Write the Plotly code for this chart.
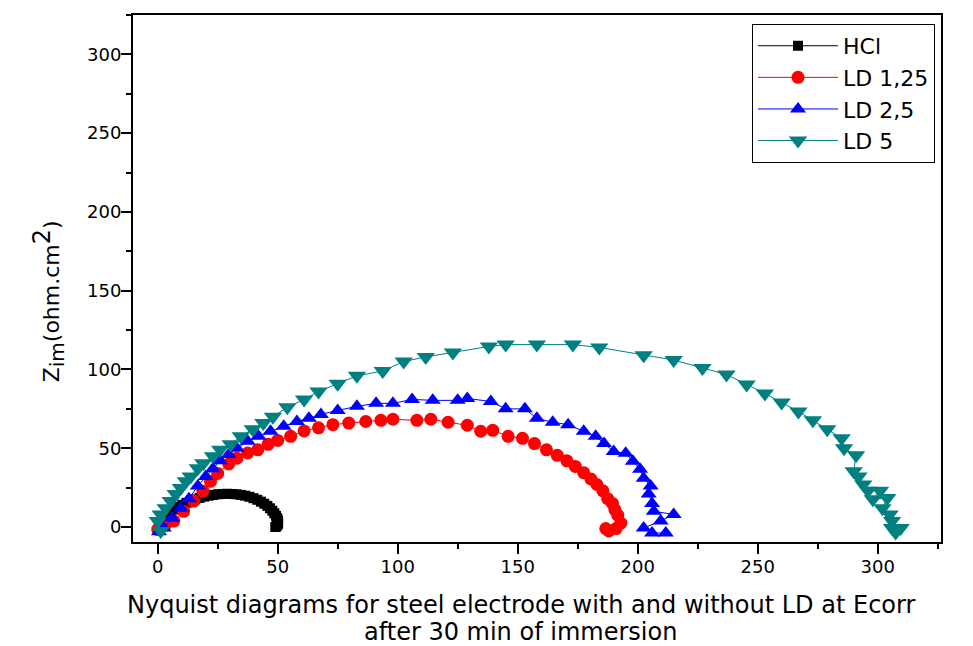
import plotly.graph_objects as go

# ---------------- data ----------------
hcl_x = [0.5, 1.2, 2.0, 3.0, 4.2, 5.5, 7.0, 8.6, 10.3, 12.0, 13.8, 15.6, 17.5, 19.4, 21.3,
         23.2, 25.1, 27.0, 28.9, 30.8, 32.7, 34.6, 36.4, 38.2, 39.9, 41.5, 43.0, 44.4, 45.7,
         46.8, 47.8, 48.6, 49.3, 49.8, 50.1, 50.2, 50.1, 49.8, 49.4, 49.0]
hcl_y = [0.3, 2.0, 3.8, 5.7, 7.6, 9.4, 11.1, 12.7, 14.1, 15.4, 16.6, 17.6, 18.5, 19.3, 19.9,
         20.4, 20.8, 21.0, 21.1, 21.0, 20.8, 20.4, 19.9, 19.2, 18.3, 17.3, 16.1, 14.8, 13.4,
         11.9, 10.3, 8.7, 7.1, 5.6, 4.2, 3.0, 2.0, 1.1, 0.4, 0.0]

ld125_x = [0.0, 3.0, 6.7, 10.8, 15.0, 18.8, 22.0, 25.0, 29.6, 33.0, 37.5, 41.7, 46.0, 50.0,
           55.4, 61.0, 67.0, 73.0, 79.6, 86.7, 93.0, 98.0, 108.0, 113.8, 121.0, 129.0, 134.6,
           139.6, 146.0, 152.0, 157.0, 162.0, 166.5, 170.5, 174.0, 177.5, 180.5, 183.0, 185.5,
           187.5, 189.5, 190.5, 191.7, 193.0, 191.0, 188.0, 186.7]
ld125_y = [-1.5, 1.0, 3.8, 10.0, 16.5, 22.8, 29.0, 34.0, 40.0, 43.7, 47.0, 49.0, 52.5, 55.0,
           57.6, 61.0, 63.0, 65.0, 66.0, 67.0, 67.7, 68.4, 67.7, 68.4, 66.5, 64.6, 60.8,
           61.4, 57.6, 56.3, 53.0, 49.0, 45.5, 42.0, 38.5, 34.5, 30.5, 27.0, 23.0,
           18.0, 15.0, 11.0, 7.5, 2.5, -1.0, -2.5, -1.0]

ld25_x = [0.5, 2.5, 6.0, 9.6, 13.0, 16.7, 20.0, 23.0, 26.0, 29.6, 33.0, 37.5, 42.0, 47.0,
          52.5, 58.0, 63.0, 68.0, 75.0, 83.0, 91.0, 98.0, 106.0, 114.6, 125.0, 129.0, 138.8,
          145.0, 153.0, 158.0, 164.6, 171.0, 177.5, 182.5, 186.0, 190.0, 195.0, 198.0, 201.0,
          202.5, 205.4, 204.6, 206.0, 206.7, 215.0, 209.6, 202.5, 206.0, 211.7]
ld25_y = [-3.0, -0.6, 5.7, 12.0, 18.0, 26.0, 32.0, 37.0, 42.0, 46.0, 50.0, 54.4, 57.6, 60.8,
          64.0, 67.0, 69.0, 71.5, 74.0, 76.6, 78.5, 78.5, 81.0, 80.4, 80.4, 81.6, 79.7,
          75.0, 75.0, 69.0, 66.5, 65.0, 60.8, 57.6, 53.0, 48.0, 46.8, 41.8, 36.7,
          31.0, 26.0, 21.0, 15.0, 10.0, 8.0, 3.8, -0.6, -3.8, -3.8]

ld5_x = [1.25, 0.0, 1.25, 3.3, 5.4, 7.5, 9.6, 11.7, 13.75, 16.7, 19.0, 23.0, 26.0, 30.4,
         34.6, 39.6, 44.0, 48.0, 54.0, 61.0, 67.0, 75.0, 83.0, 93.75, 102.5, 111.7, 123.0,
         138.0, 145.0, 158.0, 173.0, 184.0, 202.5, 215.0, 227.0, 237.0, 245.4, 253.0, 260.0,
         267.0, 273.0, 279.0, 285.0, 286.0, 291.0, 290.0, 292.0, 294.0, 296.0, 301.0, 298.0,
         304.0, 302.0, 305.0, 306.0, 306.0, 309.6, 307.5]
ld5_y = [-2.5, 3.8, 8.0, 12.0, 16.5, 21.0, 24.7, 29.0, 32.0, 37.3, 40.5, 45.0, 49.0, 52.5,
         57.6, 62.0, 66.0, 70.0, 76.0, 81.0, 86.0, 91.0, 96.0, 99.0, 105.0, 108.0, 110.8,
         114.6, 115.8, 115.8, 115.8, 114.0, 109.0, 106.0, 101.0, 96.8, 90.5, 84.8, 79.0,
         73.4, 67.7, 62.0, 56.3, 50.0, 45.6, 35.4, 32.0, 27.0, 23.0, 23.0, 17.7,
         18.4, 12.0, 8.0, 3.8, -0.6, -0.6, -3.5]

series_names = ["HCl", "LD 1,25", "LD 2,5", "LD 5"]
x_ticks = [0, 50, 100, 150, 200, 250, 300]
y_ticks = [0, 50, 100, 150, 200, 250, 300]
x_title_lines = ["Nyquist diagrams for steel electrode with and without LD at Ecorr",
                 "after 30 min of immersion"]
y_title = "Z<sub><span style='font-size:20px'>im</span></sub>(ohm.cm<sup><span style='font-size:24px'>2</span></sup>)"

# ---------------- figure ----------------
FONT = "DejaVu Sans, Verdana, sans-serif"
fig = go.Figure()

styles = [
    (hcl_x, hcl_y, "#000000", "square", 10),
    (ld125_x, ld125_y, "#ff0000", "circle", 13),
    (ld25_x, ld25_y, "#0000ff", "triangle-up", 14),
    (ld5_x, ld5_y, "#008080", "triangle-down", 16),
]
for name, (xs, ys, col, sym, sz) in zip(series_names, styles):
    fig.add_trace(go.Scatter(
        x=xs, y=ys, name=name, mode="lines+markers",
        line=dict(color=col, width=1),
        marker=dict(color=col, symbol=sym, size=sz, line=dict(width=0)),
    ))

axis_common = dict(
    showline=True, linecolor="black", linewidth=2, mirror=True,
    ticks="outside", ticklen=10, tickwidth=1.5, tickcolor="black",
    showgrid=False, zeroline=False,
    tickfont=dict(family=FONT, size=18, color="black"),
    minor=dict(ticks="outside", ticklen=5, tickwidth=1.5, tickcolor="black", dtick=25),
)

fig.update_xaxes(range=[-10.3, 326.4], tickvals=x_ticks, ticklabelstandoff=-3, **axis_common)
fig.update_yaxes(range=[-9.5, 325], tickvals=y_ticks, ticklabelstandoff=-4, **axis_common)

# x-axis title (two centred lines) and y-axis title
fig.add_annotation(text=x_title_lines[0], xref="paper", yref="paper",
                   x=0.48, y=-0.120, xanchor="center", yanchor="middle", showarrow=False,
                   font=dict(family=FONT, size=24, color="black"))
fig.add_annotation(text=x_title_lines[1], xref="paper", yref="paper",
                   x=0.48, y=-0.171, xanchor="center", yanchor="middle", showarrow=False,
                   font=dict(family=FONT, size=24, color="black"))
fig.add_annotation(text=y_title, xref="paper", yref="paper", textangle=-90,
                   x=-0.105, y=0.457, xanchor="center", yanchor="middle", showarrow=False,
                   font=dict(family=FONT, size=22, color="black"))

fig.update_layout(
    width=973, height=646,
    margin=dict(l=125, r=40, t=5, b=112),
    paper_bgcolor="white", plot_bgcolor="white",
    legend=dict(
        x=0.9926, y=0.983, xanchor="right", yanchor="top",
        bgcolor="white", bordercolor="black", borderwidth=1,
        font=dict(family=FONT, size=22, color="black"),
        tracegroupgap=0, itemsizing="trace", itemwidth=80,
    ),
    font=dict(family=FONT, color="black"),
)

fig.write_html("out.html")
